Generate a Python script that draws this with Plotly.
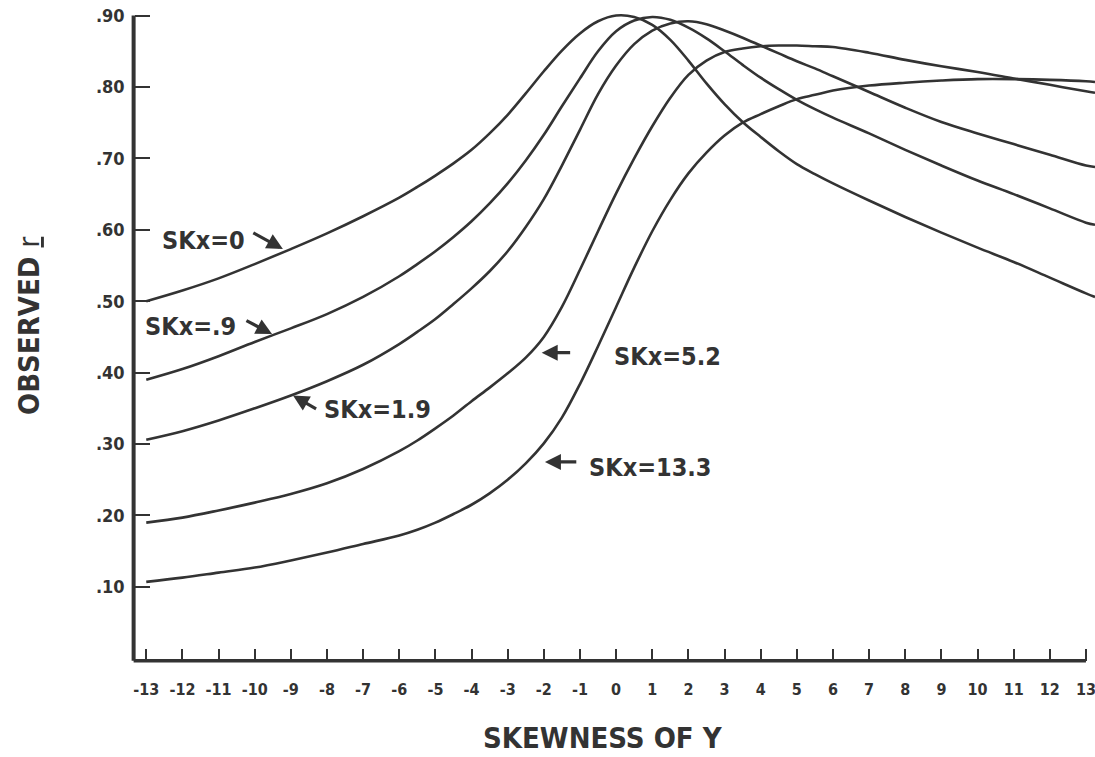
import plotly.graph_objects as go

# ---- data ----
x_grid = [-13, -12, -11, -10, -9, -8, -7, -6, -5.5, -5, -4.5, -4, -3.5, -3, -2.5, -2, -1.5, -1, -0.5,
          0, 0.5, 1, 1.5, 2, 2.5, 3, 3.5, 4, 4.5, 5, 5.5, 6, 7, 8, 9, 10, 11, 12, 13, 13.25]

y_a = [.500, .515, .532, .552, .573, .595, .619, .645, .660, .676, .693, .712, .735, .761, .791, .822, .851, .875, .892,
       .900, .898, .887, .866, .837, .805, .776, .751, .730, .710, .692, .678, .665, .641, .618, .596, .575, .555, .533, .511, .506]

y_b = [.390, .405, .423, .443, .462, .482, .506, .535, .552, .570, .590, .612, .637, .665, .697, .733, .773, .812, .850,
       .878, .893, .898, .894, .883, .868, .850, .831, .813, .797, .782, .769, .757, .735, .712, .690, .669, .650, .630, .610, .607]

y_c = [.306, .318, .333, .350, .368, .388, .411, .440, .457, .475, .496, .518, .542, .570, .604, .643, .690, .740, .790,
       .830, .860, .879, .889, .892, .888, .879, .869, .858, .847, .836, .826, .815, .793, .771, .751, .735, .720, .705, .690, .688]

y_d = [.190, .197, .207, .218, .230, .245, .265, .290, .305, .322, .340, .360, .379, .399, .421, .450, .492, .544, .598,
       .651, .700, .745, .785, .817, .837, .849, .854, .857, .858, .858, .857, .856, .848, .838, .829, .821, .812, .803, .794, .792]

y_e = [.107, .113, .120, .127, .137, .148, .160, .172, .180, .190, .202, .215, .231, .250, .273, .301, .337, .384, .437,
       .492, .547, .598, .642, .679, .708, .732, .750, .762, .773, .783, .789, .795, .802, .806, .809, .811, .811, .810, .808, .807]

series = [("SKx=0", y_a), ("SKx=.9", y_b), ("SKx=1.9", y_c), ("SKx=5.2", y_d), ("SKx=13.3", y_e)]

x_ticks = list(range(-13, 14))
y_ticks = [.10, .20, .30, .40, .50, .60, .70, .80, .90]
y_ticktext = [".10", ".20", ".30", ".40", ".50", ".60", ".70", ".80", ".90"]

# label placement (data coords) and arrows (tail -> tip)
labels = [("SKx=0", -12.63, .585), ("SKx=.9", -13.1, .464), ("SKx=1.9", -8.14, .348),
          ("SKx=5.2", -0.12, .422), ("SKx=13.3", -0.81, .267)]
arrows = [((-10.08, .597), (-9.22, .573)), ((-10.27, .474), (-9.52, .454)),
          ((-8.26, .348), (-8.94, .368)), ((-1.23, .428), (-2.06, .428)),
          ((-1.06, .275), (-1.97, .275))]

INK = "#333333"
FONT = "DejaVu Sans Condensed, Liberation Sans Narrow, sans-serif"

fig = go.Figure()
for name, ys in series:
    fig.add_trace(go.Scatter(x=x_grid, y=ys, mode="lines", name=name,
                             line=dict(color=INK, width=2.6, shape="spline", smoothing=1.0),
                             showlegend=False, hoverinfo="skip"))

# axis lines
fig.add_shape(type="line", xref="x", yref="y", x0=-13.35, x1=13.0, y0=-0.0035, y1=-0.0035,
              line=dict(color=INK, width=3.5))
fig.add_shape(type="line", xref="x", yref="y", x0=-13.35, x1=-13.35, y0=-0.0035, y1=0.9,
              line=dict(color=INK, width=4))

for text, lx, ly in labels:
    fig.add_annotation(x=lx, y=ly, xref="x", yref="y", text=f"<b>{text}</b>", showarrow=False,
                       xanchor="left", yanchor="middle",
                       font=dict(family=FONT, size=25, color=INK))
for (tx, ty), (hx, hy) in arrows:
    fig.add_annotation(x=hx, y=hy, ax=tx, ay=ty, xref="x", yref="y", axref="x", ayref="y",
                       text="", showarrow=True, arrowhead=2, arrowsize=1.0, arrowwidth=3.2,
                       arrowcolor=INK, standoff=0, startstandoff=0)

W, H = 1095, 757
L, R, T, B = 130, 0, 12, 93
pw, ph = W - L - R, H - T - B

def px_to_paper(px, py):
    return (px - L) / pw, 1 - (py - T) / ph

# axis titles (positioned in pixels of the reference)
tx, ty = px_to_paper(603, 738)
fig.add_annotation(x=tx, y=ty, xref="paper", yref="paper", text="<b>SKEWNESS OF Y</b>",
                   xanchor="center", yanchor="middle",
                   showarrow=False, font=dict(family=FONT, size=29, color=INK))
tx, ty = px_to_paper(29, 326)
fig.add_annotation(x=tx, y=ty, xref="paper", yref="paper", text="<b>OBSERVED </b><u>r</u>",
                   xanchor="center", yanchor="middle",
                   textangle=-90, showarrow=False, font=dict(family=FONT, size=29, color=INK))

fig.update_layout(
    width=W, height=H, margin=dict(l=L, r=R, t=T, b=B),
    paper_bgcolor="white", plot_bgcolor="white",
    xaxis=dict(range=[-13.45, 13.25], tickvals=x_ticks, ticktext=[str(v) for v in x_ticks],
               ticks="inside", ticklen=12, tickwidth=2, tickcolor=INK,
               showgrid=False, zeroline=False, showline=False,
               anchor="free", position=0.005, ticklabelstandoff=17,
               ticklabeloverflow="allow",
               tickfont=dict(family=FONT, size=16, color=INK, weight="bold")),
    yaxis=dict(range=[-0.008, 0.905], tickvals=y_ticks, ticktext=y_ticktext,
               ticks="inside", ticklen=15, tickwidth=2, tickcolor=INK,
               showgrid=False, zeroline=False, showline=False,
               anchor="free", position=0.0037, ticklabelstandoff=9,
               tickfont=dict(family=FONT, size=18, color=INK, weight="bold")),
)

fig.write_html("out.html")
